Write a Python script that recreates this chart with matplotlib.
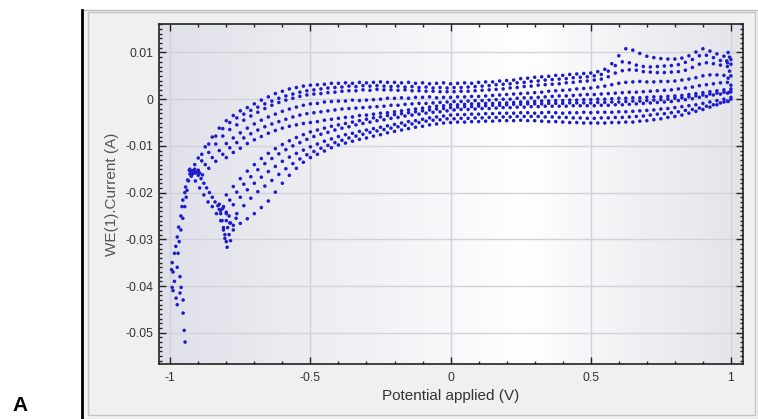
import numpy as np
import matplotlib.pyplot as plt
from matplotlib.patches import Rectangle
from matplotlib.lines import Line2D
from matplotlib.colors import LinearSegmentedColormap
from matplotlib.ticker import MultipleLocator

plt.rcParams['font.family'] = ['Liberation Sans', 'DejaVu Sans']
plt.rcParams['axes.unicode_minus'] = False

X_TICKS = [-1, -0.5, 0, 0.5, 1]
X_TICK_LABELS = ['-1', '-0.5', '0', '0.5', '1']
Y_TICKS = [-0.05, -0.04, -0.03, -0.02, -0.01, 0, 0.01]
Y_TICK_LABELS = ['-0.05', '-0.04', '-0.03', '-0.02', '-0.01', '0', '0.01']

# potentials (V) the sweeps were sampled at, two interleaved sets
GRID_A = [-0.925, -0.9, -0.875, -0.85, -0.825, -0.8, -0.775, -0.75, -0.725, -0.7,
          -0.675, -0.65, -0.625, -0.6, -0.575, -0.55, -0.525, -0.5, -0.475, -0.45,
          -0.425, -0.4, -0.375, -0.35, -0.325, -0.3, -0.275, -0.25, -0.225, -0.2,
          -0.175, -0.15, -0.125, -0.1, -0.075, -0.05, -0.025, 0.0, 0.025, 0.05,
          0.075, 0.1, 0.125, 0.15, 0.175, 0.2, 0.225, 0.25, 0.275, 0.3,
          0.325, 0.35, 0.375, 0.4, 0.425, 0.45, 0.475, 0.5, 0.525, 0.55,
          0.575, 0.6, 0.625, 0.65, 0.675, 0.7, 0.725, 0.75, 0.775, 0.8,
          0.825, 0.85, 0.875, 0.9, 0.925, 0.95, 0.975, 1.0]
GRID_B = [-0.9125, -0.8875, -0.8625, -0.8375, -0.8125, -0.7875, -0.7625, -0.7375, -0.7125, -0.6875,
          -0.6625, -0.6375, -0.6125, -0.5875, -0.5625, -0.5375, -0.5125, -0.4875, -0.4625, -0.4375,
          -0.4125, -0.3875, -0.3625, -0.3375, -0.3125, -0.2875, -0.2625, -0.2375, -0.2125, -0.1875,
          -0.1625, -0.1375, -0.1125, -0.0875, -0.0625, -0.0375, -0.0125, 0.0125, 0.0375, 0.0625,
          0.0875, 0.1125, 0.1375, 0.1625, 0.1875, 0.2125, 0.2375, 0.2625, 0.2875, 0.3125,
          0.3375, 0.3625, 0.3875, 0.4125, 0.4375, 0.4625, 0.4875, 0.5125, 0.5375, 0.5625,
          0.5875, 0.6125, 0.6375, 0.6625, 0.6875, 0.7125, 0.7375, 0.7625, 0.7875, 0.8125,
          0.8375, 0.8625, 0.8875, 0.9125, 0.9375, 0.9625, 0.9875]

# current of each sweep branch in mA, from the given start potential onwards
B1 = (GRID_A, -0.925, [
    -15.5, -12.6, -10.2, -8.1, -6.2, -4.6, -3.5, -2.5, -1.8, -1.0,
    -0.2, 0.5, 1.2, 1.7, 2.2, 2.5, 2.8, 3.0, 3.1, 3.2,
    3.4, 3.4, 3.5, 3.4, 3.6, 3.5, 3.6, 3.7, 3.6, 3.6,
    3.5, 3.6, 3.4, 3.5, 3.3, 3.4, 3.5, 3.3, 3.4, 3.5,
    3.4, 3.6, 3.7, 3.7, 3.9, 4.0, 4.1, 4.4, 4.5, 4.7,
    4.8, 4.9, 5.1, 5.1, 5.3, 5.4, 5.5, 5.6, 5.9, 6.4,
    7.6, 9.3, 10.8, 10.5, 9.8, 9.2, 8.9, 8.7, 8.6, 8.6,
    8.8, 9.3, 10.1, 10.8, 10.3, 9.7, 9.2, 8.5])
B6 = (GRID_B, -0.9125, [
    -14.0, -11.8, -9.6, -7.9, -6.3, -5.0, -4.0, -3.2, -2.4, -1.7,
    -1.0, -0.4, 0.2, 0.7, 1.1, 1.5, 1.8, 2.0, 2.2, 2.4,
    2.5, 2.6, 2.8, 2.7, 2.9, 2.8, 2.9, 2.8, 2.7, 2.8,
    2.6, 2.7, 2.5, 2.6, 2.4, 2.5, 2.4, 2.5, 2.5, 2.6,
    2.7, 2.8, 2.9, 3.1, 3.2, 3.3, 3.5, 3.6, 3.8, 3.9,
    4.1, 4.2, 4.3, 4.4, 4.6, 4.7, 4.8, 5.0, 5.3, 6.0,
    7.2, 8.0, 7.8, 7.3, 7.0, 6.9, 7.0, 7.1, 7.2, 7.4,
    7.9, 8.5, 9.3, 9.4, 8.9, 8.3, 7.8])
B2 = (GRID_B, -0.9125, [
    -15.0, -13.2, -11.4, -9.6, -7.9, -6.5, -5.5, -4.5, -3.6, -2.8,
    -2.0, -1.3, -0.7, -0.2, 0.2, 0.6, 0.9, 1.1, 1.2, 1.4,
    1.5, 1.7, 1.8, 1.8, 2.0, 1.9, 2.1, 2.0, 2.0, 1.9,
    2.0, 1.8, 1.8, 1.7, 1.7, 1.6, 1.6, 1.6, 1.7, 1.7,
    1.8, 1.9, 2.0, 2.1, 2.2, 2.4, 2.5, 2.7, 2.8, 3.0,
    3.1, 3.2, 3.3, 3.5, 3.6, 3.8, 3.9, 4.1, 4.3, 4.8,
    5.6, 6.1, 6.3, 6.2, 5.9, 5.8, 5.7, 5.7, 5.8, 5.9,
    6.2, 6.8, 7.5, 7.8, 7.6, 7.3, 7.0])
B3 = (GRID_A, -0.9, [
    -15.5, -14.0, -12.5, -11.0, -9.5, -8.3, -7.2, -6.2, -5.3, -4.5,
    -3.8, -3.2, -2.6, -2.1, -1.7, -1.3, -1.0, -0.9, -0.6, -0.5,
    -0.4, -0.4, -0.2, -0.3, -0.2, -0.1, 0.0, 0.2, 0.2, 0.3,
    0.2, 0.4, 0.4, 0.5, 0.3, 0.4, 0.4, 0.5, 0.5, 0.6,
    0.6, 0.7, 0.8, 0.9, 1.0, 1.1, 1.2, 1.3, 1.4, 1.5,
    1.7, 1.8, 1.9, 2.0, 2.2, 2.3, 2.4, 2.6, 2.8, 3.1,
    3.4, 3.6, 3.7, 3.8, 3.7, 3.7, 3.8, 3.8, 3.9, 4.1,
    4.3, 4.6, 5.0, 5.2, 5.2, 5.1, 5.0])
B4 = (GRID_B, -0.8625, [
    -14.8, -13.3, -11.8, -10.4, -9.3, -8.3, -7.4, -6.6, -5.9, -5.3,
    -4.8, -4.3, -3.8, -3.4, -3.1, -2.9, -2.7, -2.5, -2.3, -2.1,
    -2.0, -1.9, -1.8, -1.7, -1.6, -1.5, -1.3, -1.3, -1.1, -1.0,
    -0.9, -0.9, -0.8, -0.7, -0.6, -0.5, -0.5, -0.4, -0.3, -0.3,
    -0.2, -0.1, 0.0, 0.0, 0.2, 0.3, 0.3, 0.4, 0.5, 0.6,
    0.7, 0.7, 0.8, 0.9, 1.0, 1.0, 1.1, 1.2, 1.3, 1.4,
    1.5, 1.5, 1.6, 1.7, 1.8, 1.9, 2.0, 2.2, 2.4, 2.6,
    2.9, 3.1, 3.3, 3.5, 3.6])
B5 = (GRID_A, -0.8, [
    -12.5, -11.4, -10.5, -9.5, -8.7, -8.0, -7.3, -6.7, -6.2, -5.8,
    -5.5, -5.2, -5.0, -4.8, -4.5, -4.3, -4.1, -3.9, -3.8, -3.5,
    -3.4, -3.2, -3.0, -2.9, -2.7, -2.5, -2.3, -2.1, -1.9, -1.7,
    -1.5, -1.4, -1.2, -1.2, -1.1, -1.0, -1.0, -0.9, -0.9, -0.8,
    -0.8, -0.7, -0.6, -0.6, -0.5, -0.4, -0.4, -0.3, -0.3, -0.2,
    -0.2, -0.1, -0.1, 0.0, 0.0, 0.1, 0.2, 0.2, 0.3, 0.3,
    0.4, 0.5, 0.5, 0.6, 0.7, 0.8, 1.0, 1.2, 1.4, 1.6,
    1.8, 2.0, 2.2])
L5 = (GRID_A, -0.8, [
    -20.5, -18.7, -17.0, -15.4, -14.0, -12.7, -11.6, -10.6, -9.7, -8.9,
    -8.2, -7.6, -7.0, -6.6, -6.2, -5.8, -5.5, -5.2, -4.9, -4.6,
    -4.3, -4.0, -3.8, -3.5, -3.3, -3.1, -2.9, -2.7, -2.5, -2.3,
    -2.1, -2.0, -1.8, -1.7, -1.6, -1.6, -1.5, -1.4, -1.3, -1.3,
    -1.2, -1.1, -1.1, -1.0, -1.0, -1.0, -0.9, -0.9, -0.9, -0.8,
    -0.8, -0.8, -0.8, -0.7, -0.7, -0.6, -0.6, -0.5, -0.4, -0.4,
    -0.3, -0.2, -0.1, 0.0, 0.2, 0.3, 0.5, 0.7, 0.9, 1.1,
    1.3, 1.5, 1.6])
L1 = (GRID_B, -0.8125, [
    -23.4, -21.6, -19.9, -18.2, -16.6, -15.1, -13.8, -12.7, -11.7, -10.8,
    -10.0, -9.3, -8.6, -8.0, -7.5, -7.1, -6.6, -6.2, -5.9, -5.5,
    -5.2, -4.9, -4.6, -4.4, -4.1, -3.9, -3.6, -3.4, -3.2, -3.0,
    -2.8, -2.7, -2.5, -2.3, -2.2, -2.2, -2.1, -2.0, -2.0, -1.9,
    -1.8, -1.8, -1.7, -1.7, -1.6, -1.6, -1.5, -1.5, -1.5, -1.5,
    -1.4, -1.4, -1.4, -1.4, -1.3, -1.3, -1.2, -1.2, -1.1, -1.0,
    -0.9, -0.8, -0.7, -0.6, -0.5, -0.3, -0.1, 0.1, 0.4, 0.6,
    0.9, 1.1, 1.3])
L2 = (GRID_A, -0.8, [
    -24.5, -22.6, -21.0, -19.4, -18.0, -16.7, -15.5, -14.4, -13.3, -12.4,
    -11.6, -10.9, -10.2, -9.6, -9.0, -8.5, -8.0, -7.6, -7.3, -6.9,
    -6.6, -6.3, -6.0, -5.7, -5.4, -5.1, -4.8, -4.6, -4.3, -4.0,
    -3.8, -3.6, -3.4, -3.3, -3.3, -3.2, -3.2, -3.1, -3.1, -3.0,
    -3.0, -3.0, -2.9, -2.9, -3.0, -2.9, -2.8, -2.9, -3.0, -2.9,
    -2.9, -2.8, -2.9, -2.8, -2.8, -2.8, -2.7, -2.7, -2.6, -2.5,
    -2.4, -2.3, -2.1, -2.0, -1.8, -1.6, -1.4, -1.2, -0.9, -0.6,
    -0.3, 0.0, 0.4])
L3 = (GRID_B, -0.7875, [
    -26.5, -24.5, -22.8, -21.2, -19.8, -18.6, -17.4, -16.1, -14.9, -13.8,
    -12.8, -11.9, -11.2, -10.5, -9.9, -9.3, -8.8, -8.3, -7.9, -7.5,
    -7.1, -6.8, -6.5, -6.2, -5.9, -5.6, -5.3, -5.0, -4.7, -4.5,
    -4.4, -4.2, -4.2, -4.1, -4.1, -4.0, -4.0, -3.9, -3.9, -3.8,
    -3.8, -3.7, -3.7, -3.7, -3.7, -3.8, -3.8, -3.9, -3.9, -4.0,
    -4.0, -4.1, -4.1, -4.0, -4.0, -3.9, -3.9, -3.8, -3.7, -3.6,
    -3.4, -3.2, -3.1, -2.9, -2.7, -2.4, -2.2, -1.9, -1.5, -1.2,
    -0.8, -0.4])
L4 = (GRID_A, -0.775, [
    -28.0, -26.6, -25.6, -24.5, -23.2, -21.8, -19.9, -18.0, -16.3, -14.8,
    -13.5, -12.5, -11.8, -11.1, -10.4, -9.8, -9.4, -9.0, -8.6, -8.3,
    -7.9, -7.6, -7.2, -6.9, -6.6, -6.3, -6.0, -5.8, -5.5, -5.3,
    -5.1, -5.0, -4.9, -4.9, -4.8, -4.8, -4.7, -4.7, -4.6, -4.6,
    -4.6, -4.5, -4.6, -4.6, -4.7, -4.8, -4.8, -4.9, -5.0, -5.0,
    -5.1, -5.1, -5.1, -5.1, -5.0, -5.0, -4.9, -4.9, -4.7, -4.6,
    -4.4, -4.2, -3.9, -3.7, -3.4, -3.0, -2.6, -2.2, -1.7, -1.2,
    -0.6, 0.0])

TAIL_1 = [(-0.947, -52.0), (-0.95, -49.5), (-0.954, -45.8), (-0.954, -43.0), (-0.961, -40.3),
          (-0.965, -38.0), (-0.975, -36.0), (-0.972, -33.0), (-0.968, -30.5), (-0.962, -28.0),
          (-0.955, -25.5), (-0.948, -23.0), (-0.943, -21.0), (-0.94, -19.5), (-0.935, -17.5),
          (-0.93, -16.0)]
TAIL_2 = [(-0.979, -42.6), (-0.993, -40.3), (-0.985, -39.0), (-0.99, -37.0), (-0.993, -35.0),
          (-0.985, -33.0), (-0.98, -31.5), (-0.975, -29.5), (-0.97, -27.4), (-0.962, -25.0),
          (-0.958, -23.0), (-0.955, -21.6), (-0.948, -20.0), (-0.945, -18.8), (-0.938, -17.3),
          (-0.932, -15.2), (-0.99, -41.0), (-0.975, -44.0), (-0.965, -41.5), (-0.995, -36.5)]
KNEE = [(-0.92, -15.3), (-0.91, -15.8), (-0.9, -16.3), (-0.89, -17.0), (-0.88, -18.0),
        (-0.87, -19.0), (-0.86, -20.0), (-0.85, -21.0), (-0.84, -22.0), (-0.83, -22.8),
        (-0.825, -23.6), (-0.82, -24.5), (-0.815, -26.0), (-0.81, -27.5), (-0.805, -29.0),
        (-0.8, -30.5), (-0.797, -31.7), (-0.925, -16.5), (-0.91, -17.5), (-0.895, -19.0),
        (-0.88, -20.5), (-0.865, -22.0), (-0.85, -23.0), (-0.835, -24.5), (-0.82, -26.0),
        (-0.81, -28.0), (-0.805, -29.8), (-0.93, -15.0), (-0.915, -15.4), (-0.905, -15.6),
        (-0.895, -15.8), (-0.9, -15.2), (-0.885, -16.2), (-0.92, -16.0)]
V_DIP = [(-0.825, -22.5), (-0.82, -23.8), (-0.81, -23.0), (-0.8, -24.2), (-0.79, -25.0),
         (-0.785, -26.5), (-0.795, -27.5), (-0.79, -29.0), (-0.785, -30.3), (-0.775, -27.0),
         (-0.8, -26.0), (-0.765, -25.5)]
RIGHT_EDGE = [(0.995, 9.0), (1.0, 7.5), (0.995, 6.0), (0.99, 4.5), (1.0, 3.0),
              (0.995, 1.5), (0.99, -0.5), (0.985, 8.2), (0.99, 10.0)]

SWEEPS = [B1, B6, B2, B3, B4, B5, L5, L1, L2, L3, L4]
LOOSE = [TAIL_1, TAIL_2, KNEE, V_DIP, RIGHT_EDGE]


def branch(grid, start, current_ma):
    i = grid.index(start)
    return grid[i:i + len(current_ma)], current_ma


pot = []
cur = []
for grid, start, vals in SWEEPS:
    xs, ys = branch(grid, start, vals)
    pot += list(xs)
    cur += list(ys)
for pts in LOOSE:
    pot += [p[0] for p in pts]
    cur += [p[1] for p in pts]
pot = np.array(pot)
cur = np.array(cur) / 1000.0  # mA -> A

W, H = 758, 419
fig = plt.figure(figsize=(W / 100, H / 100), dpi=100)
fig.patch.set_facecolor('white')

# panel frame, kept behind the axes
fig.patches.append(Rectangle((82 / W, 0), 1 - 82 / W, 1 - 10 / H, transform=fig.transFigure,
                             facecolor='#f4f4f4', edgecolor='#bdbdbd', lw=1, zorder=-10))
fig.patches.append(Rectangle((88 / W, 4 / H), (755 - 88) / W, (407 - 4) / H, transform=fig.transFigure,
                             facecolor='#f0f0f0', edgecolor='#c4c4c4', lw=1, zorder=-9))
fig.lines.append(Line2D([82 / W, 82 / W], [0, 1 - 10 / H], transform=fig.transFigure,
                        color='black', lw=2, zorder=-8))

ax = fig.add_axes([159 / W, 1 - 364 / H, (743 - 159) / W, (364 - 24) / H])
xlim = (-1.04, 1.043)
ylim = (-0.0567, 0.0161)

bg = LinearSegmentedColormap.from_list('bg', [(0, '#e0e0e9'), (0.45, '#f6f6f9'),
                                             (0.62, '#ffffff'), (1, '#e3e3ea')])
ax.imshow(np.linspace(0, 1, 256)[None, :], cmap=bg, aspect='auto',
          extent=[xlim[0], xlim[1], ylim[0], ylim[1]], zorder=0)

ax.scatter(pot, cur, s=6.5, color='#1c1ccc', edgecolors='none', zorder=3)

ax.set_xlim(*xlim)
ax.set_ylim(*ylim)
ax.set_axisbelow(True)

ax.set_xticks(X_TICKS)
ax.set_xticklabels(X_TICK_LABELS)
ax.set_yticks(Y_TICKS)
ax.set_yticklabels(Y_TICK_LABELS)
ax.xaxis.set_minor_locator(MultipleLocator(0.1))
ax.yaxis.set_minor_locator(MultipleLocator(0.001))
ax.grid(True, which='major', color='#d2d2d8', lw=1)

ax.tick_params(which='both', direction='in', top=True, right=True, colors='#222222',
               labelsize=8.8, labelcolor='#333333', width=1)
ax.tick_params(which='major', length=5)
ax.tick_params(which='minor', length=2.5)
ax.tick_params(axis='x', which='major', pad=6)
ax.tick_params(axis='y', which='major', pad=4)
for sp in ax.spines.values():
    sp.set_color('#222222')
    sp.set_linewidth(1.2)

ax.set_xlabel('Potential applied (V)', fontsize=11, color='#333333', labelpad=3)
ax.set_ylabel('WE(1).Current (A)', fontsize=11, color='#555555', labelpad=5)

fig.text(12 / W, 1 - 405 / H, 'A', fontsize=15, fontweight='bold', va='center', ha='left')

fig.savefig('out.png', dpi=100)
